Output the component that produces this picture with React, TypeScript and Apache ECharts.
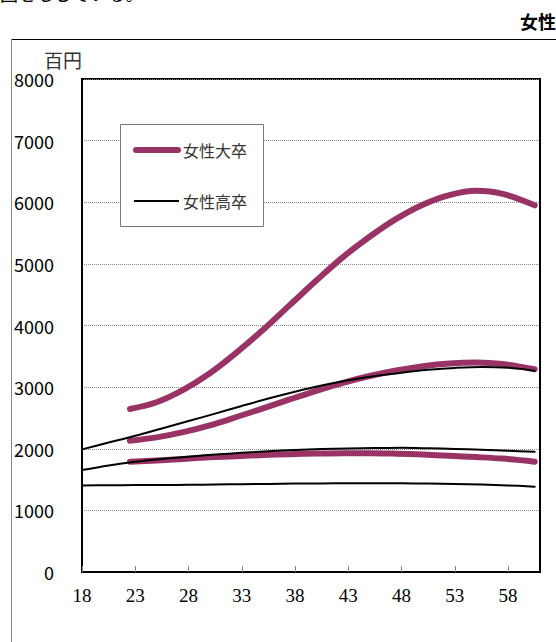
import React, { useEffect, useRef } from "react";
import * as echarts from "echarts";

const xTickStart = 18;
const agesDaisotsu = [22.5, 25, 27.5, 30, 32.5, 35, 37.5, 40, 42.5, 45, 47.5, 50, 52.5, 55, 57.5, 60.5];
const daisotsuHigh = [2645, 2755, 2955, 3225, 3560, 3930, 4330, 4730, 5110, 5440, 5730, 5960, 6115, 6185, 6135, 5950];
const daisotsuMid = [2130, 2185, 2270, 2380, 2515, 2655, 2800, 2940, 3070, 3180, 3270, 3340, 3385, 3400, 3375, 3290];
const daisotsuLow = [1790, 1810, 1835, 1860, 1880, 1898, 1912, 1922, 1928, 1928, 1920, 1905, 1885, 1865, 1840, 1790];

const agesKousotsu = [18, 20.5, 23, 25.5, 28, 30.5, 33, 35.5, 38, 40.5, 43, 45.5, 48, 50.5, 53, 55.5, 58, 60.5];
const kousotsuHigh = [1990, 2100, 2210, 2330, 2450, 2570, 2695, 2815, 2925, 3025, 3110, 3180, 3235, 3280, 3312, 3328, 3315, 3265];
const kousotsuMid = [1655, 1730, 1790, 1835, 1872, 1905, 1935, 1960, 1980, 1995, 2005, 2012, 2015, 2008, 1997, 1984, 1968, 1950];
const kousotsuLow = [1405, 1407, 1410, 1412, 1415, 1420, 1425, 1430, 1435, 1438, 1440, 1441, 1440, 1435, 1428, 1418, 1405, 1385];

const legendNames = ["女性大卒", "女性高卒"];
const unitLabel = "百円";
const titleText = "女性大卒";
const topText = "回をもしている。";

const MAGENTA = "#993366";
const JP = "'Noto Sans CJK JP', sans-serif";

function toData(ages: number[], vals: number[]) {
  return ages.map((a, i) => [a - xTickStart, vals[i]]);
}

export default function App() {
  const ref = useRef<HTMLDivElement>(null);
  useEffect(() => {
    if (!ref.current) return;
    const chart = echarts.init(ref.current, undefined, { renderer: "svg" });
    const mk = (name: string, ages: number[], vals: number[], color: string, width: number) => ({
      type: "line",
      name,
      data: toData(ages, vals),
      smooth: 0.35,
      showSymbol: false,
      symbol: "none",
      lineStyle: { color, width, cap: "round", join: "round" },
      itemStyle: { color },
      emphasis: { disabled: true },
    });
    chart.setOption({
      animation: false,
      grid: {
        left: 82,
        top: 79,
        right: 16,
        bottom: 70,
        show: true,
        borderColor: "#000",
        borderWidth: 2,
        backgroundColor: "transparent",
      },
      xAxis: {
        type: "value",
        min: 0,
        max: 43,
        interval: 5,
        axisLine: { show: true, lineStyle: { color: "#000", width: 2 } },
        axisTick: { show: true, inside: true, length: 6, lineStyle: { color: "#888" } },
        splitLine: { show: false },
        axisLabel: {
          showMaxLabel: false,
          formatter: (v: number) => String(v + xTickStart),
          fontFamily: "'Liberation Serif', serif",
          fontSize: 19,
          color: "#000",
          margin: 14,
        },
      },
      yAxis: {
        type: "value",
        min: 0,
        max: 8000,
        interval: 1000,
        axisLine: { show: true, lineStyle: { color: "#000", width: 2 } },
        axisTick: { show: false },
        splitLine: { show: true, lineStyle: { color: "#888", type: "dotted", width: 1 } },
        axisLabel: {
          formatter: (v: number) => String(v),
          fontFamily: "'Liberation Sans Narrow', 'Noto Sans CJK JP', sans-serif",
          fontSize: 18,
          color: "#000",
          margin: 28,
        },
      },
      series: [
        mk(legendNames[0], agesDaisotsu, daisotsuHigh, MAGENTA, 6),
        mk(legendNames[0], agesDaisotsu, daisotsuMid, MAGENTA, 6),
        mk(legendNames[0], agesDaisotsu, daisotsuLow, MAGENTA, 6),
        mk(legendNames[1], agesKousotsu, kousotsuHigh, "#000", 2),
        mk(legendNames[1], agesKousotsu, kousotsuMid, "#000", 2),
        mk(legendNames[1], agesKousotsu, kousotsuLow, "#000", 2),
      ],
      graphic: [
        {
          type: "text",
          left: 0,
          top: -16,
          style: { text: topText, font: `18px ${JP}`, fill: "#000" },
        },
        {
          type: "text",
          left: 520,
          top: 12,
          style: { text: titleText, font: `bold 18px ${JP}`, fill: "#000" },
        },
        {
          type: "line",
          shape: { x1: 11, y1: 39.5, x2: 556, y2: 39.5 },
          style: { stroke: "#000", lineWidth: 1 },
        },
        {
          type: "line",
          shape: { x1: 11.5, y1: 39, x2: 11.5, y2: 642 },
          style: { stroke: "#888", lineWidth: 1 },
        },
        {
          type: "text",
          left: 44,
          top: 50,
          style: { text: unitLabel, font: `19px ${JP}`, fill: "#333" },
        },
        {
          type: "rect",
          shape: { x: 120.5, y: 124.5, width: 143, height: 102 },
          style: { fill: "#fff", stroke: "#777", lineWidth: 1 },
          z: 100,
        },
        {
          type: "line",
          shape: { x1: 136, y1: 150, x2: 178, y2: 150 },
          style: { stroke: MAGENTA, lineWidth: 6, lineCap: "round" },
          z: 101,
        },
        {
          type: "text",
          x: 183,
          y: 150,
          style: { text: legendNames[0], font: `16px ${JP}`, fill: "#333", verticalAlign: "middle" },
          z: 101,
        },
        {
          type: "line",
          shape: { x1: 134, y1: 201, x2: 179, y2: 201 },
          style: { stroke: "#000", lineWidth: 2 },
          z: 101,
        },
        {
          type: "text",
          x: 183,
          y: 201,
          style: { text: legendNames[1], font: `16px ${JP}`, fill: "#333", verticalAlign: "middle" },
          z: 101,
        },
      ],
    });
    return () => chart.dispose();
  }, []);
  return (
    <div
      ref={ref}
      style={{ position: "fixed", left: 0, top: 0, width: 556, height: 642, background: "#fff" }}
    />
  );
}
